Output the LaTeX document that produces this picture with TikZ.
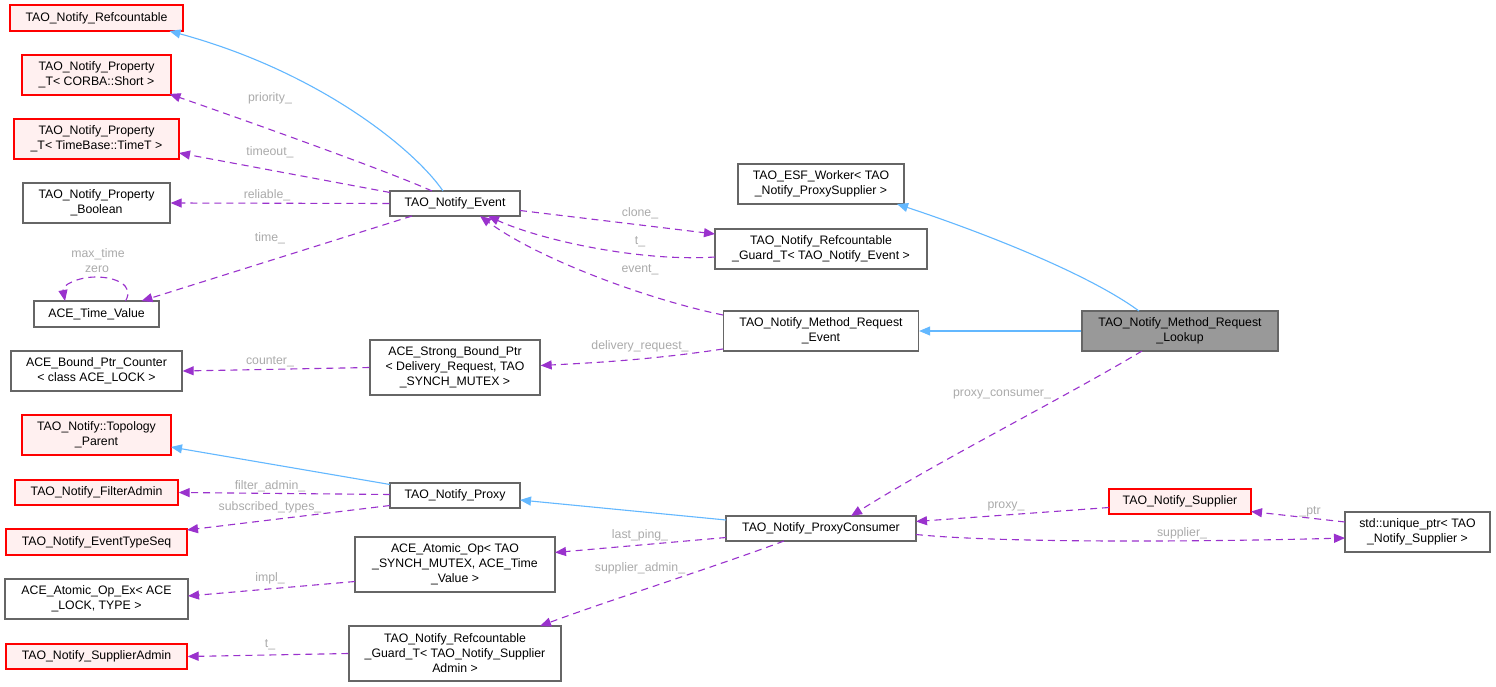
\documentclass[tikz,border=0pt]{standalone}
\usepackage{fontspec}
\setmainfont{Liberation Sans}
\usetikzlibrary{arrows.meta,calc}
\definecolor{boxgray}{HTML}{666666}
\definecolor{redfill}{HTML}{FFF0F0}
\definecolor{curfill}{HTML}{999999}
\definecolor{inhblue}{HTML}{63B8FF}
\definecolor{deppurple}{HTML}{9A32CD}
\definecolor{lblgray}{HTML}{ABABAB}
\begin{document}
\begin{tikzpicture}[x=1pt,y=-1pt,
  every node/.style={font=\fontsize{12.3}{15}\selectfont, inner sep=0pt, align=center},
  cls/.style={draw=boxgray, fill=white, line width=1.3pt},
  ext/.style={draw=red, fill=redfill, line width=1.3pt},
  cur/.style={draw=boxgray, fill=curfill, line width=1.3pt},
  inh/.style={draw=inhblue, line width=1.1pt, -{Triangle[length=11pt,width=9pt]}},
  dep/.style={draw=deppurple, line width=1.1pt, dash pattern=on 7pt off 5pt, -{Triangle[length=11pt,width=9pt]}},
  lbl/.style={text=lblgray}]
\fill[white] (0,0) rectangle (1496,687);
\useasboundingbox (0,0) rectangle (1496,687);

% left column
\node[ext, minimum width=173pt, minimum height=26pt] (refc) at (96.5,18) {TAO\_Notify\_Refcountable};
\node[ext, minimum width=149pt, minimum height=40pt] (propS) at (96.5,75) {TAO\_Notify\_Property\\\_T< CORBA::Short >};
\node[ext, minimum width=165pt, minimum height=40pt] (propT) at (96.5,139) {TAO\_Notify\_Property\\\_T< TimeBase::TimeT >};
\node[cls, minimum width=147pt, minimum height=40pt] (propB) at (96.5,203) {TAO\_Notify\_Property\\\_Boolean};
\node[cls, minimum width=125pt, minimum height=26pt] (atv) at (96.5,314) {ACE\_Time\_Value};
\node[cls, minimum width=171pt, minimum height=40pt] (bpc) at (96.5,371) {ACE\_Bound\_Ptr\_Counter\\< class ACE\_LOCK >};
\node[ext, minimum width=149pt, minimum height=40pt] (topo) at (96.5,435) {TAO\_Notify::Topology\\\_Parent};
\node[ext, minimum width=163pt, minimum height=25pt] (filt) at (96.5,492.5) {TAO\_Notify\_FilterAdmin};
\node[ext, minimum width=181pt, minimum height=26pt] (ets) at (96.5,542) {TAO\_Notify\_EventTypeSeq};
\node[cls, minimum width=183pt, minimum height=40pt] (aoe) at (96.5,599) {ACE\_Atomic\_Op\_Ex< ACE\\\_LOCK, TYPE >};
\node[ext, minimum width=181pt, minimum height=25pt] (sa) at (96.5,656.5) {TAO\_Notify\_SupplierAdmin};

% middle column
\node[cls, minimum width=130pt, minimum height=25pt] (event) at (455,203.5) {TAO\_Notify\_Event};
\node[cls, minimum width=170pt, minimum height=55pt] (strong) at (455,367.5) {ACE\_Strong\_Bound\_Ptr\\< Delivery\_Request, TAO\\\_SYNCH\_MUTEX >};
\node[cls, minimum width=130pt, minimum height=25pt] (proxy) at (455,495.5) {TAO\_Notify\_Proxy};
\node[cls, minimum width=200pt, minimum height=55pt] (atomic) at (455,564.5) {ACE\_Atomic\_Op< TAO\\\_SYNCH\_MUTEX, ACE\_Time\\\_Value >};
\node[cls, minimum width=212pt, minimum height=55pt] (guardsa) at (455,653.5) {TAO\_Notify\_Refcountable\\\_Guard\_T< TAO\_Notify\_Supplier\\Admin >};

% right-middle column
\node[cls, minimum width=166pt, minimum height=40pt] (esf) at (821,184) {TAO\_ESF\_Worker< TAO\\\_Notify\_ProxySupplier >};
\node[cls, minimum width=212pt, minimum height=40pt] (guarde) at (821,249) {TAO\_Notify\_Refcountable\\\_Guard\_T< TAO\_Notify\_Event >};
\node[cls, minimum width=195pt, minimum height=40pt] (mre) at (821,331) {TAO\_Notify\_Method\_Request\\\_Event};
\node[cls, minimum width=190pt, minimum height=25pt] (pcons) at (821,528.5) {TAO\_Notify\_ProxyConsumer};

% right columns
\node[cur, minimum width=196pt, minimum height=40pt] (lookup) at (1180,331) {TAO\_Notify\_Method\_Request\\\_Lookup};
\node[ext, minimum width=142pt, minimum height=25pt] (supplier) at (1180,501.5) {TAO\_Notify\_Supplier};
\node[cls, minimum width=145pt, minimum height=40pt] (uptr) at (1417.5,532) {std::unique\_ptr< TAO\\\_Notify\_Supplier >};

% inheritance
\draw[inh] ($(event)+(-12,-12.5)$) .. controls (415,150) and (320,72) .. ($(refc)+(73,13)$);
\draw[inh] ($(lookup)+(-41,-20)$) .. controls (1090,275) and (990,235) .. ($(esf)+(76,20)$);
\draw[inh] (lookup.west) -- (mre.east);
\draw[inh] ($(proxy)+(-65,-11)$) -- ($(topo)+(74.5,12)$);
\draw[inh] ($(pcons)+(-95,-8.5)$) -- ($(proxy)+(65,4.5)$);

% dependencies
\draw[dep] ($(event)+(-23,-12.5)$) .. controls (390,172) and (250,122) .. ($(propS)+(73,19)$);
\draw[dep] ($(event)+(-65,-11)$) -- ($(propT)+(82.5,14)$);
\draw[dep] (event.west) -- (propB.east);
\draw[dep] ($(event)+(-43,12.5)$) -- ($(atv)+(45,-13)$);
\draw[dep] ($(atv)+(29,-13)$) .. controls (135,285) and (115,277) .. (96,277) .. controls (78,277) and (62,285) .. ($(atv)+(-31.5,-13)$);
\draw[dep] ($(event)+(65,7)$) -- ($(guarde)+(-106,-15)$);
\draw[dep] ($(guarde)+(-106,8)$) .. controls (640,262) and (540,240) .. ($(event)+(33,12.5)$);
\draw[dep] ($(mre)+(-98,-16)$) .. controls (650,300) and (540,260) .. ($(event)+(25,12.5)$);
\draw[dep] ($(mre)+(-98,18)$) .. controls (650,360) and (590,363) .. ($(strong.east)+(0,-2)$);
\draw[dep] (strong.west) -- (bpc.east);
\draw[dep] ($(proxy)+(-65,-1)$) -- (filt.east);
\draw[dep] ($(proxy)+(-65,10)$) -- ($(ets)+(90.5,-12)$);
\draw[dep] ($(atomic)+(-100,17)$) -- ($(aoe)+(91.5,-3)$);
\draw[dep] (guardsa.west) -- (sa.east);
\draw[dep] ($(lookup)+(-38,20)$) .. controls (1060,400) and (940,460) .. ($(pcons)+(30,-12.5)$);
\draw[dep] ($(pcons)+(-95,9)$) -- ($(atomic)+(100,-12)$);
\draw[dep] ($(pcons)+(-37,12.5)$) .. controls (720,565) and (610,600) .. ($(guardsa)+(85,-27.5)$);
\draw[dep] ($(supplier)+(-71,6)$) -- ($(pcons)+(95,-7)$);
\draw[dep] ($(pcons)+(95,6)$) .. controls (1000,543) and (1200,542) .. ($(uptr)+(-72.5,6)$);
\draw[dep] ($(uptr)+(-72.5,-10)$) -- ($(supplier)+(71,10)$);

% labels
\node[lbl] (lpri) at (270,98) {priority\_};
\node[lbl] (ltim) at (270,152) {timeout\_};
\node[lbl] (lrel) at (267,195) {reliable\_};
\node[lbl] (ltime) at (270,238) {time\_};
\node[lbl] (lmax) at (98,254) {max\_time};
\node[lbl] (lzero) at (97,269) {zero};
\node[lbl] (lclone) at (640,213) {clone\_};
\node[lbl] (lt1) at (640,242) {t\_};
\node[lbl] (levent) at (640,270) {event\_};
\node[lbl] (ldel) at (640,346) {delivery\_request\_};
\node[lbl] (lcnt) at (270,362) {counter\_};
\node[lbl] (lfilt) at (270,486) {filter\_admin\_};
\node[lbl] (lsub) at (270,507) {subscribed\_types\_};
\node[lbl] (limpl) at (270,578) {impl\_};
\node[lbl] (lt2) at (270,645) {t\_};
\node[lbl] (lpc) at (1002,394) {proxy\_consumer\_};
\node[lbl] (lping) at (640,535) {last\_ping\_};
\node[lbl] (lsadm) at (640,568) {supplier\_admin\_};
\node[lbl] (lproxy) at (1006,506) {proxy\_};
\node[lbl] (lsup) at (1182,533) {supplier\_};
\node[lbl] (lptr) at (1310,512) {\_ptr};
\end{tikzpicture}
\end{document}
